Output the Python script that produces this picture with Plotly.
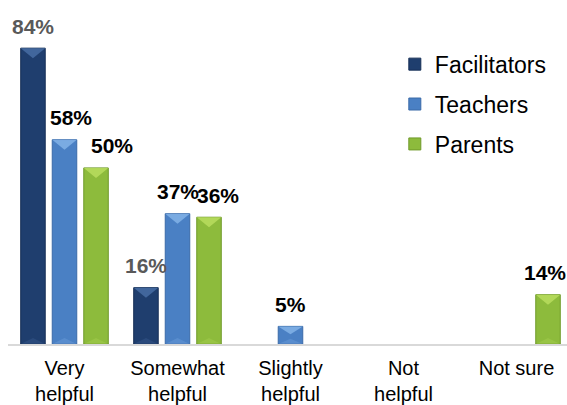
import plotly.graph_objects as go

# Survey responses: how helpful was the programme (share of respondents, %)
categories = ["Very<br>helpful", "Somewhat<br>helpful", "Slightly<br>helpful", "Not<br>helpful", "Not sure"]
facilitators = [84, 16, 0, 0, 0]
teachers = [58, 37, 5, 0, 0]
parents = [50, 36, 0, 0, 14]

series = [
    # name, values, fill, bevel highlight, edge, label colour
    ("Facilitators", facilitators, "#1f3e6e", "#4a70a8", "#162f56", "#595959"),
    ("Teachers", teachers, "#4a80c4", "#86b5ea", "#3a6aa8", "#000000"),
    ("Parents", parents, "#8dbb3c", "#bbe060", "#6f9a2a", "#000000"),
]

FONT = "Arial, Liberation Sans, sans-serif"

# Geometry of the grouped bars (in category units)
offsets = [-0.279, 0.0, 0.279]
bar_w = 0.217
# small sideways nudges so neighbouring labels do not collide
label_nudge = {("Teachers", 0): 6, ("Parents", 0): 16, ("Parents", 1): 9, ("Parents", 4): -3}

W, H = 567, 405
M_L, M_R, M_T, M_B = 8, 0, 20, 61
Y_MAX = 92
X_RANGE = [-0.5, 4.447]
plot_h = H - M_T - M_B
bevel_depth = 10 * Y_MAX / plot_h      # ~10 px, expressed in data units
base_depth = 6 * Y_MAX / plot_h

fig = go.Figure()
shapes = []
annotations = []

for k, (name, vals, fill, light, edge, lab_col) in enumerate(series):
    xs = [i + offsets[k] for i in range(len(categories))]
    ys = [v if v else None for v in vals]
    fig.add_trace(go.Bar(
        x=xs, y=ys, width=bar_w, name=name, legendgroup=name,
        marker=dict(color=fill, line=dict(color=edge, width=1)),
        hoverinfo="skip",
    ))
    for i, v in enumerate(vals):
        if not v:
            continue
        x0, x1 = xs[i] - bar_w / 2, xs[i] + bar_w / 2
        xc = xs[i]
        d = min(bevel_depth, v * 0.45)
        # bevel highlight at the top of the bar
        shapes.append(dict(
            type="path", xref="x", yref="y",
            path=f"M {x0},{v} L {x1},{v} L {xc},{v - d} Z",
            fillcolor=light, line=dict(width=0), opacity=0.8, layer="above",
        ))
        # faint bevel at the foot of the bar
        bd = min(base_depth, v * 0.3)
        shapes.append(dict(
            type="path", xref="x", yref="y",
            path=f"M {x0},0 L {x1},0 L {xc},{bd} Z",
            fillcolor=light, line=dict(width=0), opacity=0.25, layer="above",
        ))
        annotations.append(dict(
            x=xc, y=v, xref="x", yref="y", text=f"{v}%", showarrow=False,
            yshift=22, xshift=label_nudge.get((name, i), 0),
            font=dict(family=FONT, size=21, color=lab_col, weight="bold"),
        ))

fig.update_layout(
    width=W, height=H,
    margin=dict(l=M_L, r=M_R, t=M_T, b=M_B, autoexpand=False),
    paper_bgcolor="white", plot_bgcolor="white",
    barmode="overlay",
    showlegend=True,
    legend=dict(
        x=0.692, y=0.93, xanchor="left", yanchor="top",
        font=dict(family=FONT, size=23, color="#000000"),
        traceorder="grouped", tracegroupgap=7, itemwidth=30,
        bgcolor="rgba(0,0,0,0)",
    ),
    xaxis=dict(
        range=X_RANGE,
        tickmode="array",
        tickvals=list(range(len(categories))),
        ticktext=categories,
        ticks="", showgrid=False, zeroline=False,
        showline=True, linecolor="#d9d9d9", linewidth=2,
        tickfont=dict(family=FONT, size=20, color="#000000"),
        ticklabelstandoff=5,
        automargin=False,
        fixedrange=True,
    ),
    yaxis=dict(
        range=[0, Y_MAX], visible=False, showgrid=False, zeroline=False,
        fixedrange=True, automargin=False,
    ),
    shapes=shapes,
    annotations=annotations,
)

fig.write_html("out.html")
